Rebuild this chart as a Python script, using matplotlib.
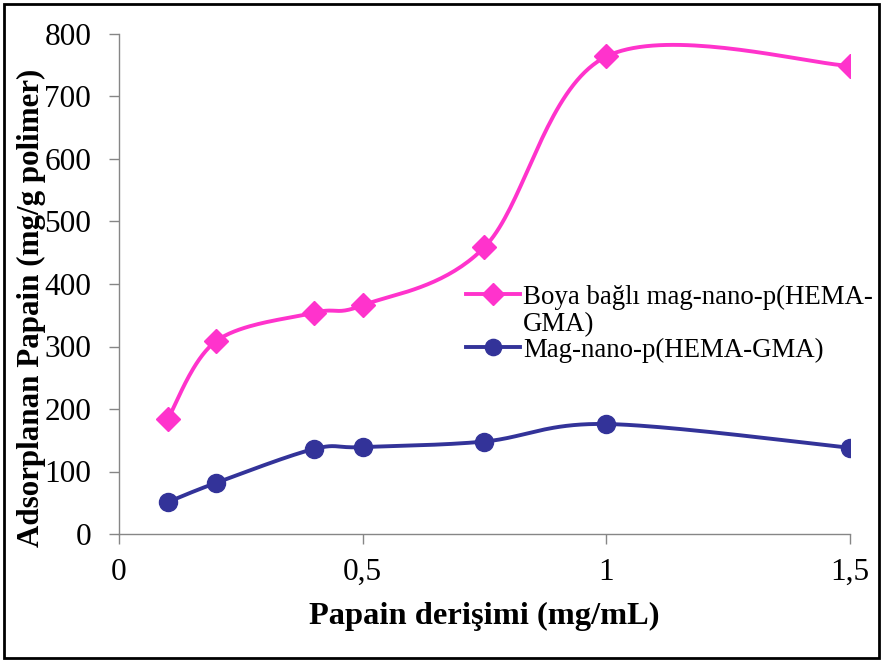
import numpy as np
import matplotlib
matplotlib.use("Agg")
import matplotlib.pyplot as plt
from matplotlib.patches import Rectangle
from matplotlib.ticker import FuncFormatter

plt.rcParams['font.family'] = ['Liberation Serif', 'DejaVu Serif']

# Papain concentration (mg/mL)
conc = [0.1, 0.2, 0.4, 0.5, 0.75, 1.0, 1.5]
# Adsorbed papain (mg/g polymer)
dye_bound = [184, 309, 354, 366, 459, 764, 749]
plain = [51, 82, 136, 139, 148, 176, 138]

label_dye = ["Boya bağlı mag-nano-p(HEMA-", "GMA)"]
label_plain = ["Mag-nano-p(HEMA-GMA)"]
x_ticks = [0, 0.5, 1.0, 1.5]
y_ticks = [0, 100, 200, 300, 400, 500, 600, 700, 800]

PINK = "#FF33CC"
NAVY = "#333399"
GREY = "#868686"


def smooth(xs, ys, n=40):
    """Bezier smoothing through the points (Catmull-Rom style control points)."""
    p = np.column_stack([xs, ys]).astype(float)
    ext = np.vstack([p[0], p, p[-1]])
    out = []
    t = np.linspace(0, 1, n)[:, None]
    for i in range(len(p) - 1):
        p0, p3 = ext[i + 1], ext[i + 2]
        c1 = p0 + (ext[i + 2] - ext[i]) / 6.0
        c2 = p3 - (ext[i + 3] - ext[i + 1]) / 6.0
        seg = ((1 - t) ** 3) * p0 + 3 * t * (1 - t) ** 2 * c1 + 3 * t ** 2 * (1 - t) * c2 + t ** 3 * p3
        out.append(seg if i == 0 else seg[1:])
    s = np.vstack(out)
    return s[:, 0], s[:, 1]


fig = plt.figure(figsize=(8.81, 6.62), dpi=100)
ax = fig.add_axes([119 / 881, 1 - 534 / 662, (850 - 119) / 881, (534 - 34) / 662])

series = [(dye_bound, label_dye, PINK, "D", 12.5),
          (plain, label_plain, NAVY, "o", 13)]
for ys, _, col, mk, ms in series:
    sx, sy = smooth(conc, ys)
    ax.plot(sx, sy, color=col, lw=2.8, solid_capstyle="round", zorder=2)
    ax.plot(conc, ys, ls="none", marker=mk, ms=ms, color=col, zorder=3)

ax.set_xlim(0, 1.5)
ax.set_ylim(0, 800)
ax.set_xticks(x_ticks)
ax.set_yticks(y_ticks)
ax.xaxis.set_major_formatter(FuncFormatter(lambda v, p: f"{v:g}".replace(".", ",")))
for s in ["top", "right"]:
    ax.spines[s].set_visible(False)
for s in ["left", "bottom"]:
    ax.spines[s].set_color(GREY)
    ax.spines[s].set_linewidth(1.0)
ax.tick_params(axis="both", direction="out", length=7, width=1.0, color=GREY,
               labelsize=22.5, labelcolor="black")
ax.tick_params(axis="x", pad=10)
ax.tick_params(axis="y", pad=13)

ax.set_xlabel("Papain derişimi (mg/mL)", fontsize=23.4, fontweight="bold", labelpad=11)
fig.text(31 / 881, 1 - 308 / 662, "Adsorplanan Papain (mg/g polimer)", rotation=90,
         fontsize=22.3, fontweight="bold", ha="center", va="center")

# legend, drawn in axes coordinates
def ax_xy(px, py):
    return (px - 119) / 731, (534 - py) / 500

legend_rows = [294, 347]
for (ys, lines, col, mk, ms), py in zip(series, legend_rows):
    x0, y0 = ax_xy(466, py)
    x1, _ = ax_xy(520, py)
    xm, _ = ax_xy(493, py)
    ax.plot([x0, x1], [y0, y0], color=col, lw=2.8, transform=ax.transAxes, clip_on=False)
    ax.plot([xm], [y0], marker=mk, ms=ms * 0.9, color=col, transform=ax.transAxes, clip_on=False)
    for k, line in enumerate(lines):
        tx, ty = ax_xy(523, py + 3 + k * 28)
        ax.text(tx, ty, line, transform=ax.transAxes, fontsize=19.4, ha="left", va="center")

fig.patches.append(Rectangle((4 / 881, 4 / 662), 875 / 881, 654 / 662, transform=fig.transFigure,
                             fill=False, edgecolor="black", lw=2.0))

fig.savefig("out.png", dpi=100)
